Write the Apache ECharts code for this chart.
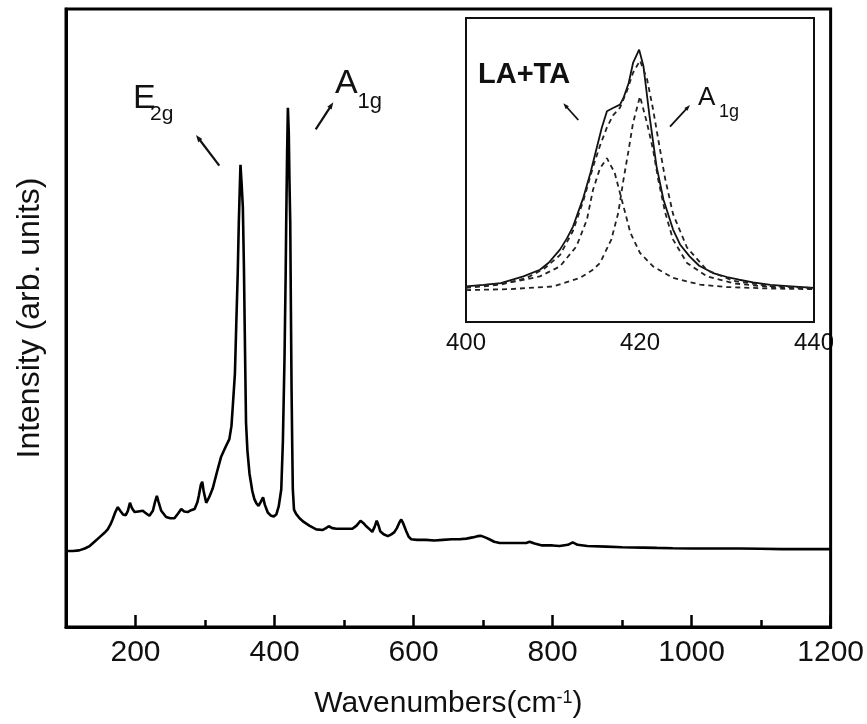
<!DOCTYPE html>
<html>
<head>
<meta charset="utf-8">
<script src="https://cdn.jsdelivr.net/npm/echarts@6/dist/echarts.min.js"></script>
<style>
html,body{margin:0;padding:0;background:#fff;}
#chart{width:867px;height:724px;}
</style>
</head>
<body>
<div id="chart"></div>
<script>
// ---- Main Raman spectrum ----
const wavenumbers = [100,110,119,127,134,141,148,155,160,164,167,171,174.5,178,182,186,189,192,195,198.6,204,210.5,214,220,225,228,230.7,233,237,244,250,256,262,265.8,270,275,280,285,289,291,294,296,298,301.7,306,311,317,323,329,335,338,340,343,345,347,348.6,350,351,352.5,354.4,356,357,358,359,361,364,368,371,374,377,380,383.5,386,390.4,395,399,402.5,406,409.7,412,414.4,416,416.8,418,419.2,420.5,421.5,422.6,423.5,424.5,425.5,426.3,428,431,436,442,450,460,469.5,474,478,483,489,500,512,518,523.7,528,532,537,540.6,544,547,550,552,557,563,568,572,576,580,582.3,585,589.5,593,596.7,605,618,630,642,655,666,676,685,692,697.4,703,709,716,724,740,755,762,767,774,785,800,810,822,829,836,850,877,900,930,950,973,1000,1040,1069,1100,1130,1165,1200];
const intensity   = [12.3,12.3,12.4,12.7,13.1,13.8,14.5,15.2,15.8,16.6,17.4,18.6,19.4,18.8,18.2,18.1,18.8,20.1,19.2,18.6,18.7,18.8,18.5,18.0,18.8,20.2,21.2,20.3,18.8,17.8,17.6,17.6,18.5,19.1,18.7,18.6,18.9,19.1,20.2,21.2,23.0,23.5,22.0,20.1,21.0,22.4,25.0,27.5,29.0,30.4,32.5,35.8,41,49.2,57,65.4,71,74.8,72,68,58,49.3,41,33,28.5,24.8,22.0,20.7,20.0,19.6,20.2,21.0,19.8,18.5,18.0,17.9,18.2,19.5,22.3,30,43.8,57,65.4,76,84,80,72,65.4,52,38.4,29,22.3,19.0,18.3,17.6,17.0,16.4,15.8,15.7,16.0,16.3,16.0,15.9,15.9,15.9,16.4,17.2,16.8,16.3,15.8,15.4,16.2,17.2,16.3,15.5,15.0,14.7,15.0,15.3,16.0,17.0,17.4,16.8,15.5,14.6,14.2,14.1,14.1,14.0,14.1,14.2,14.2,14.3,14.5,14.7,14.75,14.5,14.2,13.8,13.6,13.6,13.6,13.6,13.8,13.5,13.2,13.2,13.1,13.3,13.7,13.3,13.1,13.0,12.9,12.85,12.8,12.75,12.7,12.7,12.7,12.65,12.6,12.6,12.6];

// ---- Inset: measured (solid) ----
const insetWn = [400,402,404,406.6,408.5,409.5,410.8,411.6,412.3,413.5,414.3,415,415.6,416.2,416.9,417.7,418.1,418.7,419.2,419.9,420.4,421.1,421.9,422.7,423.8,424.6,425.7,426.8,428.4,430,431.4,433,435,437,440];
const insetMeasured = [11.7,12.2,12.8,15.0,17.2,19.5,23.8,27.5,31.4,41,49,57,63.8,69.3,70.4,71.5,73.7,78.6,85.2,89.6,84.1,67.6,51.2,40.2,30.4,25.5,21.6,18.5,16.1,14.8,13.9,13.0,12.2,11.8,11.2];

// ---- Inset: fitted sum (dashed) ----
const fitWn = [400,404,407,409,410.8,412.3,413.5,414.6,415.4,416.2,416.9,417.7,418.5,419.2,420,420.8,421.5,422.1,422.9,423.8,425.4,427.7,430.8,435,440];
const fitSum = [11.2,12.3,14.5,17.6,22,30,40,51,58,64,68,70.5,76,82,86,80,70,60,47,35.5,24.5,17,13.5,11.8,11.2];

// ---- Inset: A1g component (dashed) ----
const a1gWn = [400,405,410,413.1,414.5,415.4,416.7,417.5,418.1,418.7,419.2,420,420.8,421.5,422.1,422.9,423.8,425.4,427.7,430.8,435,440];
const a1gComp = [10.5,10.8,11.7,14.5,17,19.4,27.1,35.9,46.8,56.7,65.5,74.2,65.5,56.7,46.8,35.9,27.1,19.4,15,12.7,11.5,11.0];

// ---- Inset: LA+TA component (dashed) ----
const lataWn = [400,403.5,406,408.5,410.8,412.7,413.9,414.6,415.4,416.2,417.1,417.7,418.3,418.9,420,421.5,423.8,426.9,429.9,435,440];
const lataComp = [11.5,12.5,13.5,15,18.3,24.9,33.7,43.5,50.5,53.9,49,42.4,35.9,29.3,22.7,18.3,14.5,12.3,11.5,11.0,10.8];

// ---- Tick labels ----
const mainMajorTicks = [200,400,600,800,1000,1200];
const mainMinorTicks = [300,500,700,900,1100];
const insetLabels = [400,420,440];
const insetMajorTicks = [420];
const insetMinorTicks = [410,430];

const pair = (xs, ys) => xs.map((x, i) => [x, ys[i]]);
const FONT = '"Liberation Sans", Arial, sans-serif';
const plain = v => String(v);

const chart = echarts.init(document.getElementById('chart'), null, {renderer: 'canvas'});

function arrow(x1, y1, x2, y2, head, halfW, lw) {
  const dx = x2 - x1, dy = y2 - y1, L = Math.hypot(dx, dy);
  const ux = dx / L, uy = dy / L;
  const bx = x2 - head * ux, by = y2 - head * uy;
  const px = -uy * halfW, py = ux * halfW;
  return [
    {type: 'line', z: 100, shape: {x1: x1, y1: y1, x2: bx + ux * 1, y2: by + uy * 1},
     style: {stroke: '#111', lineWidth: lw}},
    {type: 'polygon', z: 100, shape: {points: [[x2, y2], [bx + px, by + py], [bx - px, by - py]]},
     style: {fill: '#111'}}
  ];
}

const option = {
  backgroundColor: '#fff',
  animation: false,
  grid: [
    {left: 66, right: 36, top: 9, bottom: 96, show: true, borderColor: '#000', borderWidth: 3, backgroundColor: 'transparent', z: 3},
    {left: 466, right: 53, top: 18, bottom: 402, show: true, borderColor: '#111', borderWidth: 2, backgroundColor: '#fff', z: 4}
  ],
  xAxis: [
    {gridIndex: 0, type: 'value', position: 'bottom', min: 100, max: 1200,
     name: 'Wavenumbers(cm{sup|-1})', nameLocation: 'middle', nameGap: 62,
     nameTextStyle: {fontFamily: FONT, fontSize: 30, color: '#111',
       rich: {sup: {fontFamily: FONT, fontSize: 18, color: '#111', verticalAlign: 'top', padding: [0,0,12,0]}}},
     axisLine: {show: true, lineStyle: {color: '#000', width: 3}},
     axisTick: {show: true, inside: true, length: 12, lineStyle: {color: '#000', width: 2.5}, customValues: mainMajorTicks},
     axisLabel: {show: true, margin: 11, fontFamily: FONT, fontSize: 30, color: '#111', customValues: mainMajorTicks, formatter: plain},
     splitLine: {show: false}},
    {gridIndex: 0, type: 'value', position: 'bottom', min: 100, max: 1200,
     axisLine: {show: false},
     axisTick: {show: true, inside: true, length: 7, lineStyle: {color: '#000', width: 2.5}, customValues: mainMinorTicks},
     axisLabel: {show: false},
     splitLine: {show: false}},
    {gridIndex: 1, type: 'value', position: 'bottom', min: 400, max: 440,
     axisLine: {show: true, lineStyle: {color: '#111', width: 2}},
     axisTick: {show: true, inside: true, length: 7, lineStyle: {color: '#111', width: 2}, customValues: insetMajorTicks},
     axisLabel: {show: true, margin: 9, fontFamily: FONT, fontSize: 24, color: '#111', customValues: insetLabels, formatter: plain},
     splitLine: {show: false}},
    {gridIndex: 1, type: 'value', position: 'bottom', min: 400, max: 440,
     axisLine: {show: false},
     axisTick: {show: true, inside: true, length: 4, lineStyle: {color: '#111', width: 2}, customValues: insetMinorTicks},
     axisLabel: {show: false},
     splitLine: {show: false}}
  ],
  yAxis: [
    {gridIndex: 0, type: 'value', min: 0, max: 100,
     name: 'Intensity (arb. units)', nameLocation: 'middle', nameGap: 20,
     nameTextStyle: {fontFamily: FONT, fontSize: 32, color: '#111'},
     axisLine: {show: true, lineStyle: {color: '#000', width: 3}},
     axisTick: {show: false}, axisLabel: {show: false}, splitLine: {show: false}},
    {gridIndex: 1, type: 'value', min: 0, max: 100,
     axisLine: {show: true, lineStyle: {color: '#111', width: 2}},
     axisTick: {show: false}, axisLabel: {show: false}, splitLine: {show: false}}
  ],
  series: [
    {type: 'line', xAxisIndex: 0, yAxisIndex: 0, data: pair(wavenumbers, intensity),
     showSymbol: false, lineStyle: {color: '#000', width: 2.6}, z: 5},
    {type: 'line', xAxisIndex: 2, yAxisIndex: 1, data: pair(insetWn, insetMeasured),
     showSymbol: false, lineStyle: {color: '#111', width: 1.8}, z: 6},
    {type: 'line', xAxisIndex: 2, yAxisIndex: 1, data: pair(fitWn, fitSum),
     showSymbol: false, lineStyle: {color: '#222', width: 1.8, type: [5, 4]}, z: 6},
    {type: 'line', xAxisIndex: 2, yAxisIndex: 1, data: pair(a1gWn, a1gComp),
     showSymbol: false, lineStyle: {color: '#222', width: 1.8, type: [5, 4]}, z: 6},
    {type: 'line', xAxisIndex: 2, yAxisIndex: 1, data: pair(lataWn, lataComp),
     showSymbol: false, lineStyle: {color: '#222', width: 1.8, type: [5, 4]}, z: 6}
  ],
  graphic: [
    // main labels
    {type: 'text', z: 100, x: 133, y: 98.5, style: {text: 'E', font: '34px ' + FONT, fill: '#111', textVerticalAlign: 'middle'}},
    {type: 'text', z: 100, x: 150, y: 114.5, style: {text: '2g', font: '21px ' + FONT, fill: '#111', textVerticalAlign: 'middle'}},
    {type: 'text', z: 100, x: 335, y: 84, style: {text: 'A', font: '34px ' + FONT, fill: '#111', textVerticalAlign: 'middle'}},
    {type: 'text', z: 100, x: 357.5, y: 102, style: {text: '1g', font: '22px ' + FONT, fill: '#111', textVerticalAlign: 'middle'}},
    // inset labels
    {type: 'text', z: 100, x: 478, y: 75, style: {text: 'LA+TA', font: 'bold 29px ' + FONT, fill: '#111', textVerticalAlign: 'middle'}},
    {type: 'text', z: 100, x: 698, y: 97.5, style: {text: 'A', font: '26px ' + FONT, fill: '#111', textVerticalAlign: 'middle'}},
    {type: 'text', z: 100, x: 719, y: 112, style: {text: '1g', font: '18px ' + FONT, fill: '#111', textVerticalAlign: 'middle'}},
    // mask for clipped inset label beyond main frame
    {type: 'rect', z: 90, shape: {x: 833, y: 326, width: 34, height: 40}, style: {fill: '#fff'}}
  ]
    .concat(arrow(219.3, 165.7, 196, 135, 7, 2.6, 2.2))
    .concat(arrow(315.7, 129.3, 333.3, 102.3, 7, 2.6, 2.2))
    .concat(arrow(578.3, 120, 563.3, 103.3, 6, 2.1, 1.8))
    .concat(arrow(670, 126.7, 690, 105, 6, 2.1, 1.8))
};

chart.setOption(option);
</script>
</body>
</html>
